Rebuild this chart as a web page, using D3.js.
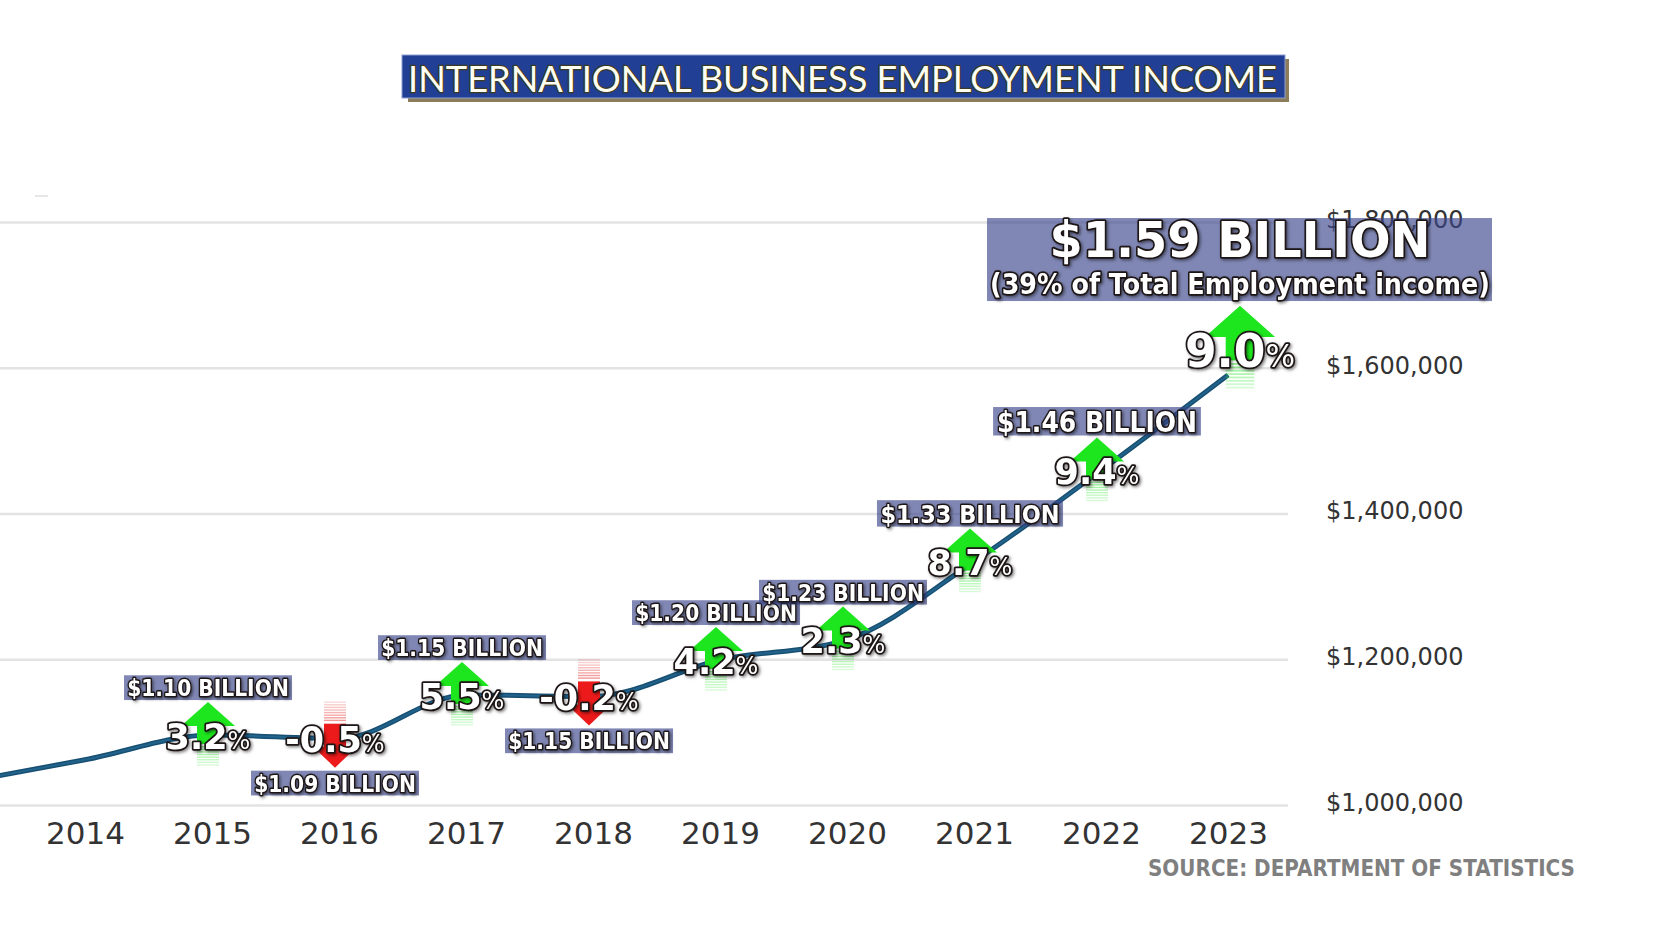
<!DOCTYPE html>
<html>
<head>
<meta charset="utf-8">
<script src="https://cdn.jsdelivr.net/npm/d3@7"></script>
<style>
  body { margin: 0; background: #ffffff; }
  svg { display: block; }
</style>
</head>
<body>
<script>
// svg size
var width = 1664, height = 936;

// data - employment income ($ thousands)
var years = [2013, 2014, 2015, 2016, 2017, 2018, 2019, 2020, 2021, 2022, 2023];
var income = [1030000, 1062000, 1096000, 1091000, 1151000, 1149000, 1199000, 1227000, 1334000, 1459000, 1590000];

// annotations
var annYears = [2015, 2016, 2017, 2018, 2019, 2020, 2021, 2022, 2023];
var pctChange = [3.2, -0.5, 5.5, -0.2, 4.2, 2.3, 8.7, 9.4, 9.0];
var billionLabels = ["$1.10 BILLION", "$1.09 BILLION", "$1.15 BILLION", "$1.15 BILLION",
                     "$1.20 BILLION", "$1.23 BILLION", "$1.33 BILLION", "$1.46 BILLION", "$1.59 BILLION"];
var shareNote = "(39% of Total Employment income)";

// axes
var axisYears = [2014, 2015, 2016, 2017, 2018, 2019, 2020, 2021, 2022, 2023];
var yTicks = [1000000, 1200000, 1400000, 1600000, 1800000];

var titleText = "INTERNATIONAL BUSINESS EMPLOYMENT INCOME";
var sourceText = "SOURCE: DEPARTMENT OF STATISTICS";

var series = years.map(function(d, i){ return {year: d, value: income[i]}; });

var svg = d3.select("body")
            .append("svg")
            .attr("width", width)
            .attr("height", height);

// text shadow
var defs = svg.append("defs");
defs.append("filter")
    .attr("id", "shadow")
    .attr("x", "-20%").attr("y", "-30%")
    .attr("width", "140%").attr("height", "160%")
    .append("feDropShadow")
        .attr("dx", 1.5).attr("dy", 1.5)
        .attr("stdDeviation", 1.5)
        .attr("flood-color", "#000")
        .attr("flood-opacity", 0.5);

// scales
var x = d3.scaleLinear().domain([2014, 2023]).range([85, 1228]);
var y = d3.scaleLinear().domain([1000000, 1800000]).range([805, 222]);
var labelSize = d3.scaleLinear().domain([1230000, 1460000]).range([21, 26]).clamp(true);

// gridlines
var grid = svg.append("g")
            .attr("transform", "translate(1288,0)")
            .call(d3.axisLeft(y).tickValues(yTicks).tickSize(1288).tickFormat(""));
grid.select(".domain").remove();
grid.selectAll("line").attr("stroke", "#e3e3e3").attr("stroke-width", 2.5);

// stray mark top left
svg.append("line")
    .attr("x1", 35).attr("x2", 48).attr("y1", 196).attr("y2", 196)
    .attr("stroke", "#dedede").attr("stroke-width", 1.5);

// y labels
var yAxis = svg.append("g")
            .attr("transform", "translate(1326,0)")
            .call(d3.axisRight(y).tickValues(yTicks).tickSize(0).tickPadding(0)
                    .tickFormat(function(d){ return "$" + d3.format(",")(d); }));
yAxis.select(".domain").remove();
yAxis.selectAll("text")
    .attr("dy", "0.22em")
    .style("font-family", "'DejaVu Sans', Verdana, sans-serif")
    .style("font-size", "24px")
    .attr("fill", "#333");

// x labels
var xAxis = svg.append("g")
            .attr("transform", "translate(0,805)")
            .call(d3.axisBottom(x).tickValues(axisYears).tickSize(0).tickPadding(17)
                    .tickFormat(d3.format("d")));
xAxis.select(".domain").remove();
xAxis.selectAll("text")
    .style("font-family", "'DejaVu Sans', Verdana, sans-serif")
    .style("font-size", "31px")
    .attr("fill", "#333");

// line
var line = d3.line()
            .x(function(d){ return x(d.year); })
            .y(function(d){ return y(d.value); })
            .curve(d3.curveMonotoneX);

svg.append("path")
    .datum(series)
    .attr("d", line)
    .attr("fill", "none")
    .attr("stroke", "#174f72")
    .attr("stroke-width", 5);
svg.append("path")
    .datum(series)
    .attr("d", line)
    .attr("fill", "none")
    .attr("stroke", "#22638c")
    .attr("stroke-width", 2);

// annotation anchors
var ann = annYears.map(function(yr, i){
    var v = income[years.indexOf(yr)];
    var last = (i == annYears.length - 1);
    var s = last ? 1.3 : 1;
    return {
        year: yr, value: v, pct: pctChange[i], label: billionLabels[i],
        last: last, s: s,
        cx: x(yr) - 4 + (last ? 16 : 0),
        cy: y(v) + 1 - (last ? 26 : 0)
    };
});

// arrows
var arrows = svg.append("g").attr("class", "arrows")
                .selectAll("g")
                .data(ann)
                .enter()
                    .append("g")
                    .attr("transform", function(d){
                        return "translate(" + d.cx + "," + d.cy + ") scale(" + d.s + ")";
                    });

arrows.each(function(d){
    var g = d3.select(this);
    var k;
    if(d.pct >= 0){
        g.append("polygon")
            .attr("points", "0,-34 27,-10 -27,-10")
            .attr("fill", "#1ee61e");
        g.append("rect")
            .attr("x", -11).attr("y", -11).attr("width", 22).attr("height", 19)
            .attr("fill", "#1ee61e");
        for(k = 0; k < 8; k++){
            g.append("rect")
                .attr("x", -11).attr("y", 10 + k * 2.6)
                .attr("width", 22).attr("height", 1.4)
                .attr("fill", "#3fe83f")
                .attr("opacity", 0.55 - k * 0.05);
        }
    }
    else{
        g.append("polygon")
            .attr("points", "0,28 22,7 -22,7")
            .attr("fill", "#ec1a1a");
        g.append("rect")
            .attr("x", -11).attr("y", -16).attr("width", 22).attr("height", 24)
            .attr("fill", "#ec1a1a");
        for(k = 0; k < 8; k++){
            g.append("rect")
                .attr("x", -11).attr("y", -20 - k * 2.6)
                .attr("width", 22).attr("height", 1.4)
                .attr("fill", "#e84040")
                .attr("opacity", 0.55 - k * 0.05);
        }
    }
});

// billion boxes
var boxFill = "rgba(60,70,140,0.65)";
var boldFont = "'DejaVu Sans', Verdana, sans-serif";

ann.forEach(function(d){
    if(d.last){
        // headline box
        svg.append("rect")
            .attr("x", d.cx - 253).attr("y", d.cy - 132)
            .attr("width", 505).attr("height", 83)
            .attr("fill", boxFill);
        svg.append("text")
            .attr("x", d.cx).attr("y", d.cy - 93)
            .attr("text-anchor", "middle")
            .attr("textLength", 381).attr("lengthAdjust", "spacingAndGlyphs")
            .style("font-family", boldFont).style("font-weight", "bold").style("font-size", "50px")
            .attr("class", "outlined")
            .text(d.label);
        svg.append("text")
            .attr("x", d.cx).attr("y", d.cy - 56)
            .attr("text-anchor", "middle")
            .attr("textLength", 500).attr("lengthAdjust", "spacingAndGlyphs")
            .style("font-family", boldFont).style("font-weight", "bold").style("font-size", "28px")
            .attr("class", "outlined")
            .text(shareNote);
        return;
    }
    var f = labelSize(d.value);
    var bw = 8 * f, bh = 0.75 * f + 9;
    var top = d.pct >= 0 ? d.cy - 36 - bh : d.cy + 31;
    svg.append("rect")
        .attr("x", d.cx - bw / 2).attr("y", top)
        .attr("width", bw).attr("height", bh)
        .attr("fill", boxFill);
    svg.append("text")
        .attr("x", d.cx).attr("y", top + bh / 2 + 0.37 * f * 1.1)
        .attr("text-anchor", "middle")
        .attr("textLength", 7.7 * f).attr("lengthAdjust", "spacingAndGlyphs")
        .style("font-family", boldFont).style("font-weight", "bold").style("font-size", (f * 1.1) + "px")
        .attr("class", "outlined thin")
        .text(d.label);
});

// percent change text
var pct = svg.append("g").attr("class", "pct")
            .selectAll("text")
            .data(ann)
            .enter()
                .append("text")
                .attr("class", "outlined")
                .attr("x", function(d){ return d.cx; })
                .attr("y", function(d){ return d.cy + 12.8 * d.s; })
                .attr("text-anchor", "middle")
                .style("font-family", boldFont);

pct.append("tspan")
    .style("font-weight", "bold")
    .style("font-size", function(d){ return (35 * d.s) + "px"; })
    .text(function(d){ return (d.pct < 0 ? "-" : "") + Math.abs(d.pct).toFixed(1); });
pct.append("tspan")
    .style("font-size", function(d){ return (24 * d.s) + "px"; })
    .text("%");

// outlined white text
svg.selectAll("text.outlined")
    .attr("fill", "#ffffff")
    .attr("stroke", "#1c1414")
    .attr("stroke-width", 3.5)
    .attr("stroke-linejoin", "round")
    .style("paint-order", "stroke")
    .attr("filter", "url(#shadow)");
svg.selectAll("text.thin")
    .attr("stroke-width", 3);

// title
svg.append("rect")
    .attr("x", 408).attr("y", 59).attr("width", 881).attr("height", 43)
    .attr("fill", "#8c7d5a");
svg.append("rect")
    .attr("x", 402).attr("y", 55).attr("width", 883).attr("height", 43)
    .attr("fill", "#213f95")
    .attr("stroke", "#8ea0cf")
    .attr("stroke-width", 1);
svg.append("text")
    .attr("x", 408).attr("y", 92)
    .attr("textLength", 869).attr("lengthAdjust", "spacingAndGlyphs")
    .style("font-family", "Lato, 'Open Sans', sans-serif")
    .style("font-size", "37px")
    .attr("fill", "#fffff4")
    .attr("stroke", "#3b3a22")
    .attr("stroke-width", 2.5)
    .attr("stroke-linejoin", "round")
    .style("paint-order", "stroke")
    .text(titleText);

// source
svg.append("text")
    .attr("x", 1575).attr("y", 876)
    .attr("text-anchor", "end")
    .attr("textLength", 427).attr("lengthAdjust", "spacingAndGlyphs")
    .style("font-family", "'DejaVu Sans', Verdana, sans-serif")
    .style("font-weight", "bold")
    .style("font-size", "23px")
    .attr("fill", "#7f7f7f")
    .text(sourceText);
</script>
</body>
</html>
